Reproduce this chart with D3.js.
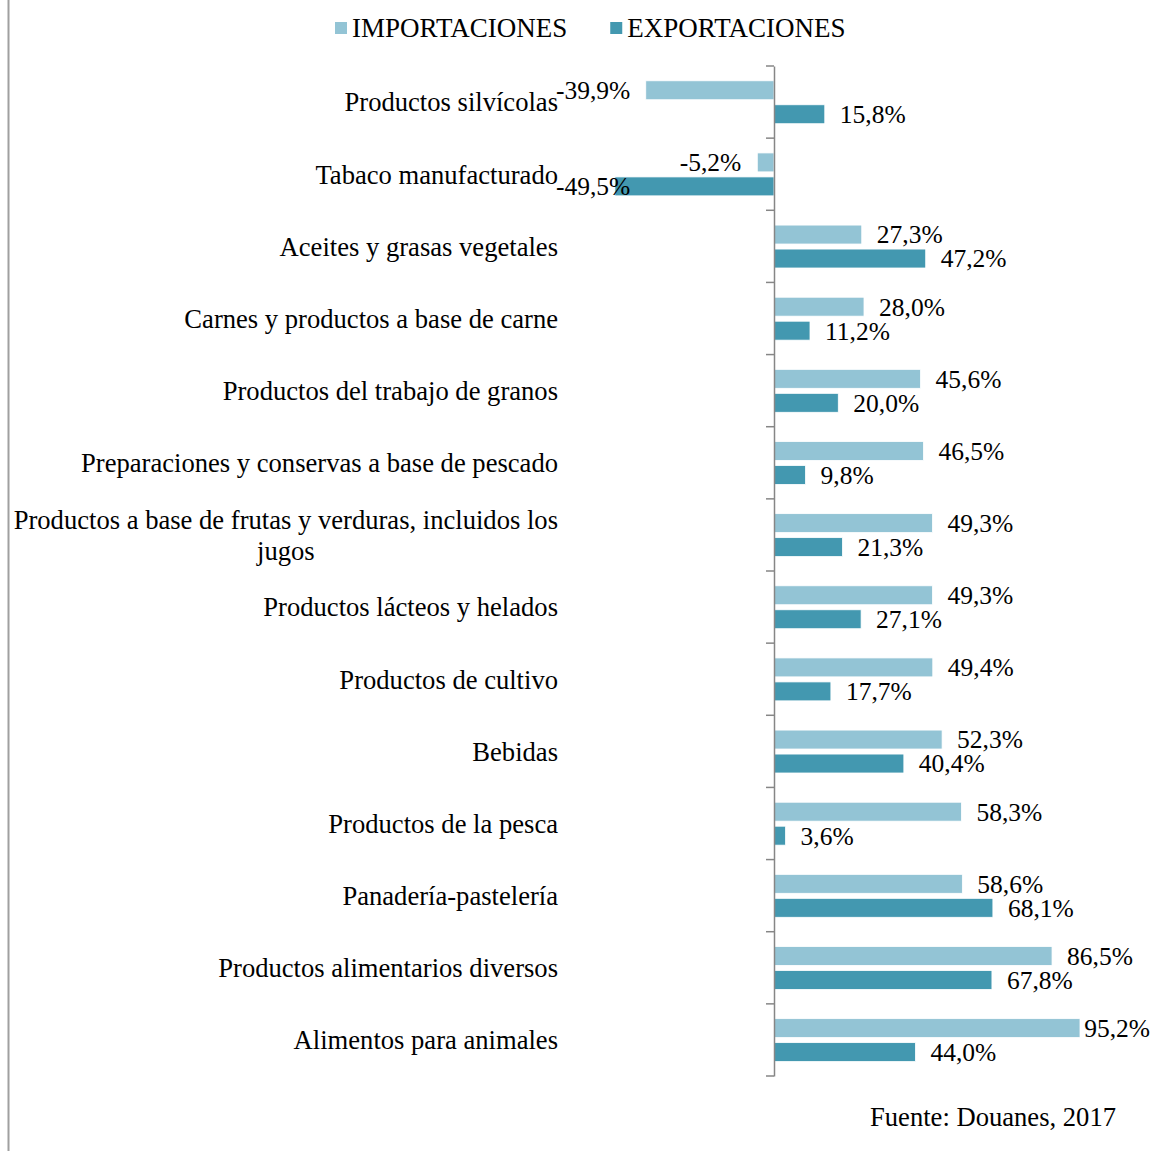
<!DOCTYPE html>
<html>
<head>
<meta charset="utf-8">
<script src="https://cdn.jsdelivr.net/npm/d3@7"></script>
<style>
  body { margin: 0; background: #fff; }
  svg { display: block; font-family: "Liberation Serif", "Times New Roman", serif; }
</style>
</head>
<body>
<div id="chart"></div>
<script>
// Categories, top to bottom
const categories = [
  'Productos silvícolas',
  'Tabaco manufacturado',
  'Aceites y grasas vegetales',
  'Carnes y productos a base de carne',
  'Productos del trabajo de granos',
  'Preparaciones y conservas a base de pescado',
  'Productos a base de frutas y verduras, incluidos los|jugos',
  'Productos lácteos y helados',
  'Productos de cultivo',
  'Bebidas',
  'Productos de la pesca',
  'Panadería-pastelería',
  'Productos alimentarios diversos',
  'Alimentos para animales'
];
const series = ['IMPORTACIONES', 'EXPORTACIONES'];
const importaciones = [-39.9, -5.2, 27.3, 28.0, 45.6, 46.5, 49.3, 49.3, 49.4, 52.3, 58.3, 58.6, 86.5, 95.2];
const exportaciones = [15.8, -49.5, 47.2, 11.2, 20.0, 9.8, 21.3, 27.1, 17.7, 40.4, 3.6, 68.1, 67.8, 44.0];
const source = 'Fuente: Douanes, 2017';

const colors = { IMPORTACIONES: '#93c4d5', EXPORTACIONES: '#4398b0' };
const width = 1153, height = 1151;
const catSize = 26.6, valSize = 25.5, legendSize = 27;
const labelLeft = 556, labelRight = 1150;

const rows = [];
categories.forEach((c, i) => {
  rows.push({ cat: c, key: 'IMPORTACIONES', value: importaciones[i] });
  rows.push({ cat: c, key: 'EXPORTACIONES', value: exportaciones[i] });
});

const svg = d3.select('#chart').append('svg')
  .attr('width', width)
  .attr('height', height);

svg.append('rect').attr('width', width).attr('height', height).attr('fill', '#fff');

// left frame edge
svg.append('line')
  .attr('x1', 8.5).attr('x2', 8.5)
  .attr('y1', 0).attr('y2', height)
  .attr('stroke', '#a0a0a0').attr('stroke-width', 2);

const x = d3.scaleLinear().domain([0, 95.2]).range([774, 1080]);
const y = d3.scaleBand().domain(categories).range([66, 1076]);
const ySub = d3.scaleBand().domain(series)
  .range([y.bandwidth() * 0.205, y.bandwidth() * 0.80])
  .paddingInner(0.21);

const loc = d3.formatLocale({ decimal: ',', thousands: '.', grouping: [3], currency: ['', '%'], minus: '-' });
const fmt = v => loc.format('.1f')(v) + '%';

// bars
svg.append('g').selectAll('rect')
  .data(rows)
  .join('rect')
  .attr('x', d => x(Math.min(0, d.value)))
  .attr('width', d => Math.abs(x(d.value) - x(0)))
  .attr('y', d => y(d.cat) + ySub(d.key))
  .attr('height', ySub.bandwidth())
  .attr('fill', d => colors[d.key])
  .attr('stroke', '#fff')
  .attr('stroke-width', 0.8);

// category axis
const axis = svg.append('g')
  .attr('transform', `translate(${x(0)},0)`)
  .call(d3.axisLeft(y).tickSize(0).tickFormat(''));
axis.select('.domain').attr('stroke', '#868686').attr('stroke-width', 1.5);
axis.selectAll('.tick').remove();
axis.selectAll('.sep')
  .data(categories.concat(['end']))
  .join('line')
  .attr('class', 'sep')
  .attr('x1', -8).attr('x2', 0)
  .attr('y1', (d, i) => y.range()[0] + i * y.step())
  .attr('y2', (d, i) => y.range()[0] + i * y.step())
  .attr('stroke', '#868686').attr('stroke-width', 1.5);

// category labels
const catLabels = svg.append('g').selectAll('text')
  .data(categories)
  .join('text')
  .attr('font-size', catSize)
  .attr('fill', '#000')
  .attr('text-anchor', 'middle');
catLabels.each(function (d) {
  const lines = d.split('|');
  const t = d3.select(this);
  const lh = 31;
  const cy = y(d) + y.bandwidth() / 2;
  lines.forEach((ln, k) => {
    t.append('tspan')
      .attr('y', cy + (k - (lines.length - 1) / 2) * lh)
      .attr('dy', '0.35em')
      .text(ln);
  });
  // right-align the block, lines centred within it
  const widths = t.selectAll('tspan').nodes().map(n => n.getComputedTextLength());
  const maxW = d3.max(widths);
  t.selectAll('tspan').attr('x', 558 - maxW / 2);
});

// value labels
const valLabels = svg.append('g').selectAll('text')
  .data(rows)
  .join('text')
  .attr('font-size', valSize)
  .attr('fill', '#000')
  .attr('y', d => y(d.cat) + ySub(d.key) + ySub.bandwidth() / 2)
  .attr('dy', '0.35em')
  .text(d => fmt(d.value));
valLabels.each(function (d) {
  const w = this.getComputedTextLength();
  let start = d.value >= 0 ? x(d.value) + 15 : x(d.value) - 16 - w;
  start = Math.max(labelLeft, Math.min(labelRight - w, start));
  d3.select(this).attr('x', start);
});

// legend
const legend = svg.append('g').attr('transform', 'translate(335,28)');
let lx = 0;
series.forEach(s => {
  const g = legend.append('g').attr('transform', `translate(${lx},0)`);
  g.append('rect').attr('x', 0).attr('y', -6).attr('width', 12).attr('height', 12).attr('fill', colors[s]);
  const t = g.append('text').attr('x', 17).attr('dy', '0.35em').attr('font-size', legendSize).text(s);
  lx += 17 + t.node().getComputedTextLength() + 43;
});

// source
svg.append('text')
  .attr('x', 1116).attr('y', 1117).attr('dy', '0.35em')
  .attr('text-anchor', 'end')
  .attr('font-size', catSize)
  .text(source);
</script>
</body>
</html>
